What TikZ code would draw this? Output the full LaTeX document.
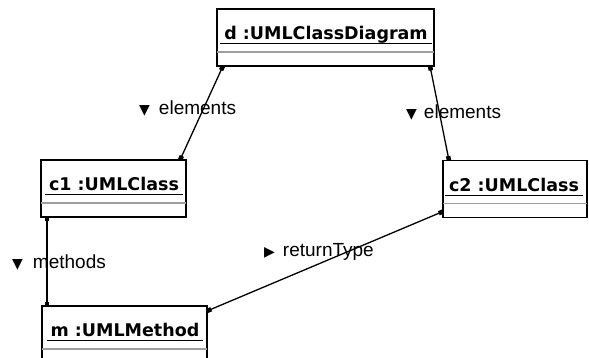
\documentclass[tikz,border=0pt]{standalone}
\usepackage{fontspec}
\setmainfont{Liberation Sans}
\newfontfamily\titlefont{DejaVu Sans}
\newfontfamily\trifont{DejaVu Sans}
\usetikzlibrary{arrows.meta}

\newcommand{\roletri}[1]{{\trifont\fontsize{14}{14}\selectfont #1}}

\tikzset{
	objbox/.style={shape=rectangle,draw=black,line width=1.5pt,minimum height=57pt,inner sep=0pt,outer sep=0pt},
	objtitle/.style={font=\titlefont\bfseries\fontsize{17.5}{20}\selectfont,inner xsep=4pt,inner ysep=0pt,outer sep=0pt,anchor=base},
	sepline/.style={draw=black!38,line width=1.6pt},
	uline/.style={draw=black,line width=1.3pt},
	link/.style={line width=1.3pt,arrows={Square[length=4.5pt,width=4.5pt]-Square[length=4.5pt,width=4.5pt]}},
	rolename/.style={font=\fontsize{19}{22}\selectfont,inner sep=0pt,anchor=base west}
}

\begin{document}
\begin{tikzpicture}[x=1pt,y=-1pt]
	\clip (0,0) rectangle (589,358);
	
	% objects
	\node[objbox,minimum width=217pt] (d)  at (325.5,37.5)  {};
	\node[objbox,minimum width=145pt] (c1) at (113.5,188.5) {};
	\node[objbox,minimum width=144pt] (c2) at (515,189)     {};
	\node[objbox,minimum width=165pt] (m)  at (124.5,334.5) {};
	
	\node[objtitle] (dt)  at (326,39.5) {d :UMLClassDiagram};
	\node[objtitle] (c1t) at (114,190.5)  {c1 :UMLClass};
	\node[objtitle] (c2t) at (514,191.5)  {c2 :UMLClass};
	\node[objtitle] (mt)  at (125,336.5)  {m :UMLMethod};
	
	\foreach \o in {d,c1,c2,m} {
		\draw[uline] ([yshift=-4pt]\o t.base west) -- ([yshift=-4pt]\o t.base east);
		\draw[sepline] ([yshift=-43pt]\o.north west) -- ([yshift=-43pt]\o.north east);
	}
	
	% links
	\draw[link] ([xshift=6pt]d.south west)  -- ([xshift=-6pt]c1.north east);
	\draw[link] ([xshift=-4pt]d.south east) -- ([xshift=6pt]c2.north west);
	\draw[link] ([xshift=6pt]c1.south west) -- ([xshift=5pt]m.north west);
	\draw[link] ([yshift=6pt]c2.south west) -- ([yshift=-5pt]m.north east);
	
	% role names
	\node[rolename] (r1) at (139,115) {\roletri{▼}\hspace{9pt}elements};
	\node[rolename] (r2) at (406,119) {\roletri{▼}\hspace{7pt}elements};
	\node[rolename] (r3) at (12,269)  {\roletri{▼}\hspace{10pt}methods};
	\node[rolename] (r4) at (264,257) {\roletri{▶}\hspace{8pt}returnType};
	
\end{tikzpicture}
\end{document}
